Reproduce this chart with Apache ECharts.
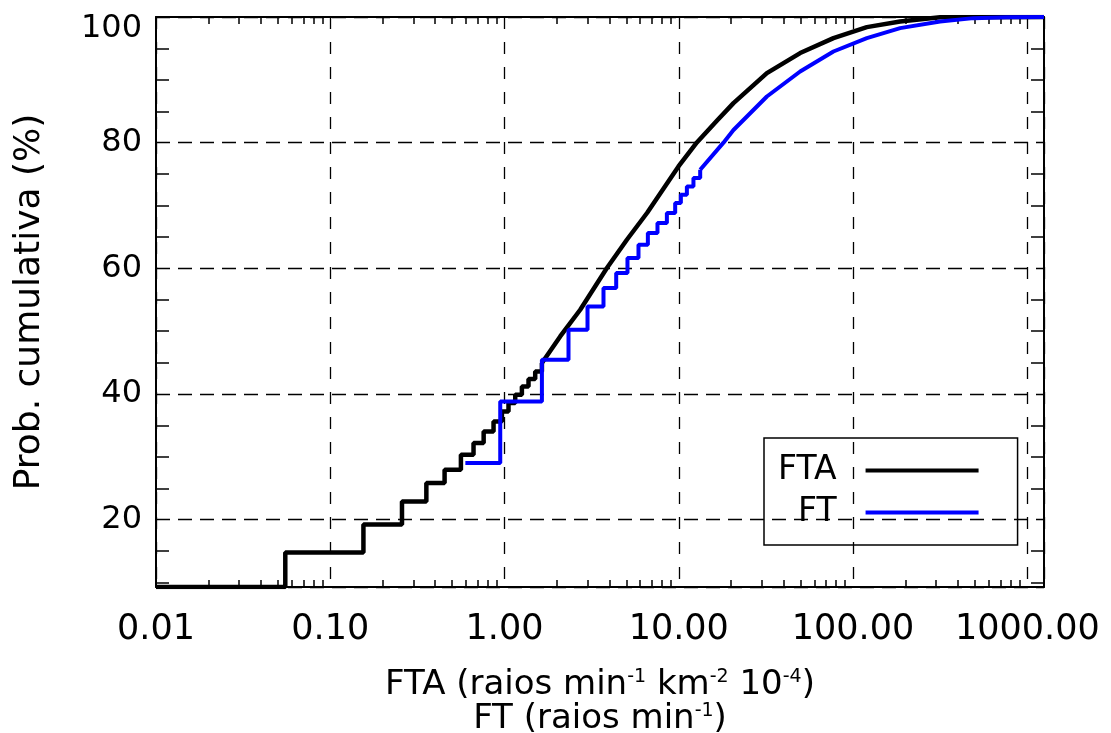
<!DOCTYPE html>
<html>
<head>
    <meta charset="utf-8">
    <title>Prob. cumulativa</title>
    <script src="https://cdn.jsdelivr.net/npm/echarts@6/dist/echarts.min.js"></script>
    <style>
        html, body { margin: 0; padding: 0; background: #fff; }
        #main { width: 1111px; height: 733px; }
    </style>
</head>
<body>
    <div id="main"></div>
    <script type="text/javascript">
        // FTA: degraus iniciais e parte continua
        var ftaStepX = [0.01, 0.0552, 0.155, 0.258, 0.356, 0.453, 0.562, 0.664, 0.759, 0.865, 0.966, 1.054, 1.152, 1.258, 1.373, 1.500, 1.639];
        var ftaStepY = [9.29, 14.80, 19.25, 22.91, 25.84, 27.96, 30.34, 32.20, 34.05, 35.64, 37.23, 38.57, 39.89, 41.21, 42.39, 43.60, 44.93];
        var ftaCurveX = [1.639, 2.087, 2.719, 3.869, 5.037, 6.589, 9.96, 12.70, 16.54, 20.60, 32.03, 49.72, 77.2, 120.0, 186.3, 316, 1247];
        var ftaCurveY = [44.93, 49.16, 53.41, 60.05, 64.55, 68.85, 76.21, 80.03, 83.48, 86.30, 91.07, 94.26, 96.64, 98.39, 99.28, 99.95, 100];

        // FT
        var ftStepX = [0.596, 0.945, 1.639, 2.329, 2.994, 3.698, 4.374, 5.077, 5.872, 6.647, 7.547, 8.545, 9.535, 10.28, 11.13, 12.14, 13.27];
        var ftStepY = [29.02, 38.82, 45.46, 50.23, 53.94, 56.87, 59.25, 61.64, 63.75, 65.62, 67.21, 68.80, 70.39, 71.71, 73.03, 74.37, 75.69];
        var ftCurveX = [13.27, 18.05, 20.60, 32.03, 49.72, 77.2, 120.0, 186.3, 316, 491, 763, 1247];
        var ftCurveY = [75.69, 80.0, 82.02, 87.35, 91.33, 94.51, 96.64, 98.23, 99.28, 99.82, 99.95, 100];

        var xMin = 0.01, xMax = 1247;
        var yMin = 9.29, yMax = 100;

        function zip(xs, ys) {
            return xs.map(function (x, i) { return [x, ys[i]]; });
        }

        var font = 'DejaVu Sans';
        var frame = { show: true, onZero: false, lineStyle: { color: '#000', width: 2 } };
        var lineIcon = 'path://M0,0H113V4H0Z';

        var myChart = echarts.init(document.getElementById('main'), null, { renderer: 'canvas' });

        var option = {
            animation: false,
            backgroundColor: '#fff',
            grid: { left: 156, top: 17, right: 67, bottom: 146, containLabel: false, outerBoundsMode: 'none' },
            legend: {
                data: [{ name: 'FTA', icon: lineIcon }, { name: 'FT', icon: lineIcon }],
                orient: 'vertical',
                align: 'right',
                left: 764,
                top: 438,
                padding: [16, 39, 16, 14],
                itemWidth: 113,
                itemHeight: 14,
                itemGap: 9,
                borderColor: '#000',
                borderWidth: 1.5,
                borderRadius: 0,
                textStyle: { fontFamily: font, fontSize: 33, color: '#000', lineHeight: 33, padding: [0, 24, 0, 0] }
            },
            xAxis: [{
                type: 'log',
                logBase: 10,
                min: xMin,
                max: xMax,
                position: 'bottom',
                axisLine: frame,
                axisTick: { show: false, inside: true },
                minorTick: { show: true, splitNumber: 9, length: 7, lineStyle: { color: '#000', width: 1.5 } },
                splitLine: { show: true, lineStyle: { color: '#000', width: 1.3, type: [12, 13] } },
                axisLabel: {
                    margin: 25,
                    fontFamily: font,
                    fontSize: 35,
                    color: '#000',
                    formatter: function (v) {
                        var e = Math.log10(v);
                        if (Math.abs(e - Math.round(e)) > 1e-6) return '';
                        return v.toFixed(2);
                    }
                },
                name: 'FTA (raios min{sup|-1} km{sup|-2} 10{sup|-4})\nFT (raios min{sup|-1})',
                nameLocation: 'middle',
                nameGap: 81,
                nameTextStyle: {
                    fontFamily: font, fontSize: 34, color: '#000', lineHeight: 34,
                    rich: {
                        sup: { fontFamily: font, fontSize: 19, color: '#000', lineHeight: 34, padding: [0, 0, 15, 0] }
                    }
                }
            }, {
                type: 'log',
                logBase: 10,
                min: xMin,
                max: xMax,
                position: 'top',
                axisLine: frame,
                axisTick: { show: false, inside: true },
                minorTick: { show: true, splitNumber: 9, length: 7, lineStyle: { color: '#000', width: 1.5 } },
                splitLine: { show: false },
                axisLabel: { show: false }
            }],
            yAxis: [{
                type: 'value',
                min: yMin,
                max: yMax,
                splitNumber: 5,
                position: 'left',
                axisLine: frame,
                axisTick: { show: false, inside: true },
                minorTick: { show: true, splitNumber: 4, length: 13, lineStyle: { color: '#000', width: 1.5 } },
                splitLine: { show: true, lineStyle: { color: '#000', width: 1.3, type: [14, 8] } },
                axisLabel: {
                    margin: 14,
                    fontFamily: font,
                    fontSize: 32,
                    color: '#000',
                    formatter: function (v) {
                        if (Math.abs(v % 20) > 1e-6) return '';
                        if (v === 100) return '{top|100}';
                        return String(v);
                    },
                    rich: {
                        top: { fontFamily: font, fontSize: 32, color: '#000', padding: [24, 0, 0, 0] }
                    }
                },
                name: 'Prob. cumulativa (%)',
                nameLocation: 'middle',
                nameGap: 108,
                nameTextStyle: { fontFamily: font, fontSize: 36, color: '#000' }
            }, {
                type: 'value',
                min: yMin,
                max: yMax,
                splitNumber: 5,
                position: 'right',
                axisLine: frame,
                axisTick: { show: false, inside: true },
                minorTick: { show: true, splitNumber: 4, length: 13, lineStyle: { color: '#000', width: 1.5 } },
                splitLine: { show: false },
                axisLabel: { show: false }
            }],
            series: [{
                name: 'FTA',
                type: 'line',
                step: 'end',
                symbol: 'none',
                data: zip(ftaStepX, ftaStepY),
                itemStyle: { color: '#000' },
                lineStyle: { color: '#000', width: 4.5 }
            }, {
                name: 'FTA',
                type: 'line',
                symbol: 'none',
                data: zip(ftaCurveX, ftaCurveY),
                itemStyle: { color: '#000' },
                lineStyle: { color: '#000', width: 4.5, join: 'round' }
            }, {
                name: 'FT',
                type: 'line',
                step: 'end',
                symbol: 'none',
                data: zip(ftStepX, ftStepY),
                itemStyle: { color: '#0000ff' },
                lineStyle: { color: '#0000ff', width: 4 }
            }, {
                name: 'FT',
                type: 'line',
                symbol: 'none',
                data: zip(ftCurveX, ftCurveY),
                itemStyle: { color: '#0000ff' },
                lineStyle: { color: '#0000ff', width: 4, join: 'round' }
            }]
        };

        myChart.setOption(option);
    </script>
</body>
</html>
